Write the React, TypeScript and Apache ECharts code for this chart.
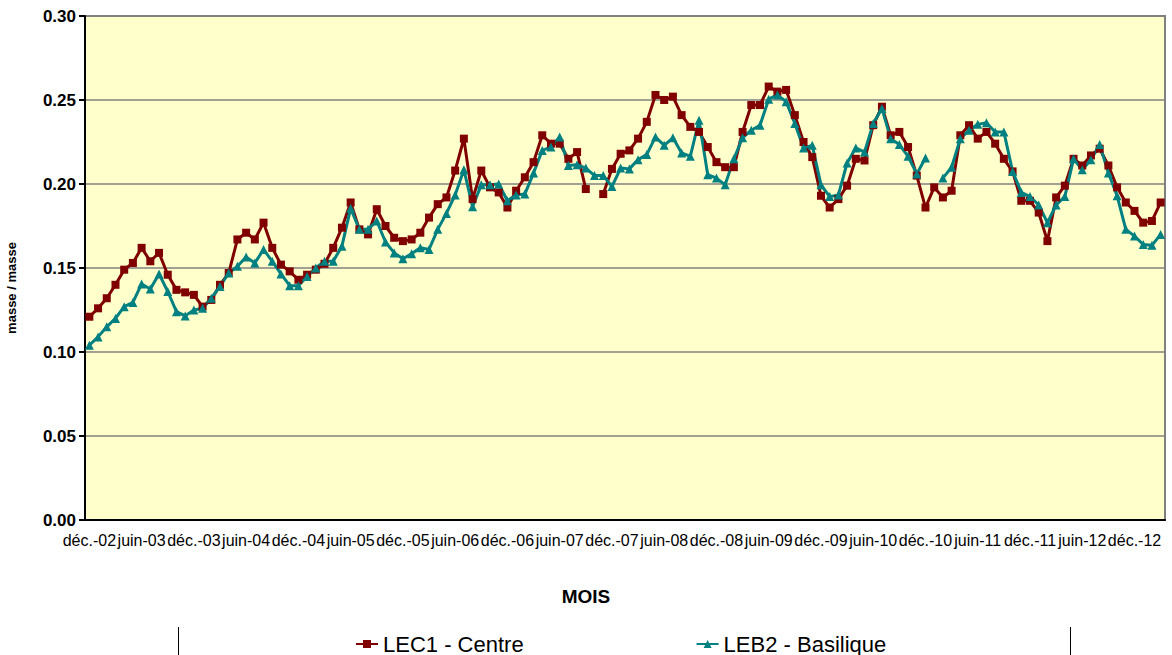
import React, { useEffect, useRef } from "react";
import * as echarts from "echarts";

const monthNames = ["janv.", "févr.", "mars", "avr.", "mai", "juin", "juil.", "août", "sept.", "oct.", "nov.", "déc."];
const startMonth = 11; // déc.
const startYear = 2002;
const monthCount = 124;

const categories: string[] = [];
for (let k = 0; k < monthCount; k++) {
  const m = (startMonth + k) % 12;
  const y = startYear + Math.floor((startMonth + k) / 12);
  categories.push(`${monthNames[m]}-${String(y % 100).padStart(2, "0")}`);
}

const yTicks = [0, 0.05, 0.1, 0.15, 0.2, 0.25, 0.3];

const lec1Centre: (number | null)[] = [
  0.121, 0.126, 0.132, 0.140, 0.149, 0.153, 0.162, 0.154, 0.159, 0.146,
  0.137, 0.1355, 0.134, 0.127, 0.131, 0.140, 0.147, 0.167, 0.171, 0.167,
  0.177, 0.162, 0.152, 0.148, 0.143, 0.146, 0.149, 0.1525, 0.162, 0.174,
  0.189, 0.173, 0.170, 0.185, 0.175, 0.168, 0.166, 0.167, 0.171, 0.180,
  0.188, 0.192, 0.208, 0.227, 0.191, 0.208, 0.198, 0.195, 0.186, 0.196,
  0.204, 0.213, 0.229, 0.224, 0.224, 0.215, 0.219, 0.197, null, 0.194,
  0.209, 0.218, 0.220, 0.227, 0.237, 0.253, 0.250, 0.252, 0.241, 0.234,
  0.231, 0.222, 0.213, 0.210, 0.210, 0.231, 0.247, 0.247, 0.258, 0.255,
  0.256, 0.241, 0.225, 0.216, 0.193, 0.186, 0.191, 0.199, 0.215, 0.214,
  0.235, 0.246, 0.229, 0.231, 0.222, 0.205, 0.186, 0.198, 0.192, 0.196,
  0.229, 0.235, 0.227, 0.231, 0.224, 0.215, 0.2075, 0.190, 0.190, 0.183,
  0.166, 0.192, 0.199, 0.215, 0.211, 0.217, 0.221, 0.211, 0.198, 0.189,
  0.184, 0.177, 0.178, 0.189,
];

const leb2Basilique: (number | null)[] = [
  0.104, 0.109, 0.115, 0.120, 0.127, 0.1295, 0.1405, 0.1375, 0.1465, 0.136,
  0.124, 0.1215, 0.125, 0.126, 0.132, 0.139, 0.147, 0.151, 0.1565, 0.153,
  0.161, 0.154, 0.1465, 0.1395, 0.1395, 0.145, 0.150, 0.154, 0.154, 0.163,
  0.1855, 0.173, 0.173, 0.178, 0.1655, 0.159, 0.1555, 0.1585, 0.162, 0.161,
  0.173, 0.1825, 0.1935, 0.2085, 0.1865, 0.1995, 0.1995, 0.200, 0.190, 0.1935,
  0.194, 0.2065, 0.220, 0.222, 0.228, 0.211, 0.2115, 0.2095, 0.205, 0.205,
  0.1985, 0.2095, 0.209, 0.2145, 0.2175, 0.228, 0.223, 0.2275, 0.2185, 0.2165,
  0.238, 0.2055, 0.2035, 0.1995, 0.215, 0.2275, 0.232, 0.235, 0.2505, 0.253,
  0.249, 0.236, 0.2215, 0.223, 0.1995, 0.1925, 0.1935, 0.2125, 0.2215, 0.219,
  0.236, 0.245, 0.227, 0.2235, 0.2165, 0.206, 0.2155, null, 0.2035, 0.210,
  0.227, 0.232, 0.2355, 0.2365, 0.231, 0.231, 0.2075, 0.195, 0.1925, 0.1875,
  0.177, 0.1875, 0.1925, 0.215, 0.2085, 0.2145, 0.2235, 0.2065, 0.193, 0.173,
  0.169, 0.164, 0.1635, 0.170,
];

const FONT = "'Liberation Sans', Arial, sans-serif";

export default function App() {
  const ref = useRef<HTMLDivElement>(null);

  useEffect(() => {
    if (!ref.current) return;
    const chart = echarts.init(ref.current, null, { renderer: "svg" });
    chart.setOption({
      animation: false,
      backgroundColor: "#ffffff",
      grid: {
        left: 85,
        right: 7,
        top: 16,
        bottom: 135,
        show: true,
        backgroundColor: "#FFFFCC",
        borderColor: "#808080",
        borderWidth: 2,
      },
      xAxis: {
        type: "category",
        data: categories,
        boundaryGap: true,
        axisLine: { lineStyle: { color: "#000", width: 2 } },
        axisTick: { interval: 5, length: 5, lineStyle: { color: "#000", width: 2 } },
        axisLabel: {
          interval: 5,
          color: "#000",
          fontSize: 16,
          fontFamily: FONT,
          margin: 12,
        },
        splitLine: { show: false },
      },
      yAxis: {
        type: "value",
        min: yTicks[0],
        max: yTicks[yTicks.length - 1],
        interval: 0.05,
        axisLine: { show: true, lineStyle: { color: "#000", width: 2 } },
        axisTick: { show: true, length: 6, lineStyle: { color: "#000", width: 2 } },
        axisLabel: {
          color: "#000",
          fontSize: 17,
          fontWeight: "bold",
          fontFamily: FONT,
          margin: 9,
          formatter: (v: number) => v.toFixed(2),
        },
        splitLine: { show: true, lineStyle: { color: "#808080", width: 1.5 } },
      },
      legend: {
        left: 350,
        top: 628,
        itemGap: 172,
        itemWidth: 22,
        itemHeight: 10,
        textStyle: { color: "#000", fontSize: 22, fontFamily: FONT },
        data: ["LEC1 - Centre", "LEB2 - Basilique"],
      },
      graphic: [
        {
          type: "text",
          left: "center",
          top: 587,
          style: { text: "MOIS", fill: "#000", font: `bold 19px ${FONT}` },
        },
        {
          type: "text",
          x: 11,
          y: 288,
          rotation: Math.PI / 2,
          style: {
            text: "masse / masse",
            fill: "#000",
            font: `bold 13px ${FONT}`,
            align: "center",
            verticalAlign: "middle",
          },
        },
        { type: "line", shape: { x1: 178.5, y1: 627, x2: 178.5, y2: 655 }, style: { stroke: "#000", lineWidth: 1 } },
        { type: "line", shape: { x1: 1070.5, y1: 627, x2: 1070.5, y2: 655 }, style: { stroke: "#000", lineWidth: 1 } },
      ],
      series: [
        {
          name: "LEC1 - Centre",
          type: "line",
          data: lec1Centre,
          connectNulls: false,
          showAllSymbol: true,
          symbol: "rect",
          symbolSize: 8,
          color: "#800000",
          lineStyle: { color: "#800000", width: 3 },
          itemStyle: { color: "#800000" },
        },
        {
          name: "LEB2 - Basilique",
          type: "line",
          data: leb2Basilique,
          connectNulls: false,
          showAllSymbol: true,
          symbol: "triangle",
          symbolSize: 9,
          color: "#008080",
          lineStyle: { color: "#008080", width: 3 },
          itemStyle: { color: "#008080" },
        },
      ],
    });
    return () => chart.dispose();
  }, []);

  return (
    <div
      ref={ref}
      style={{ position: "fixed", left: 0, top: 0, width: 1172, height: 655 }}
    />
  );
}
